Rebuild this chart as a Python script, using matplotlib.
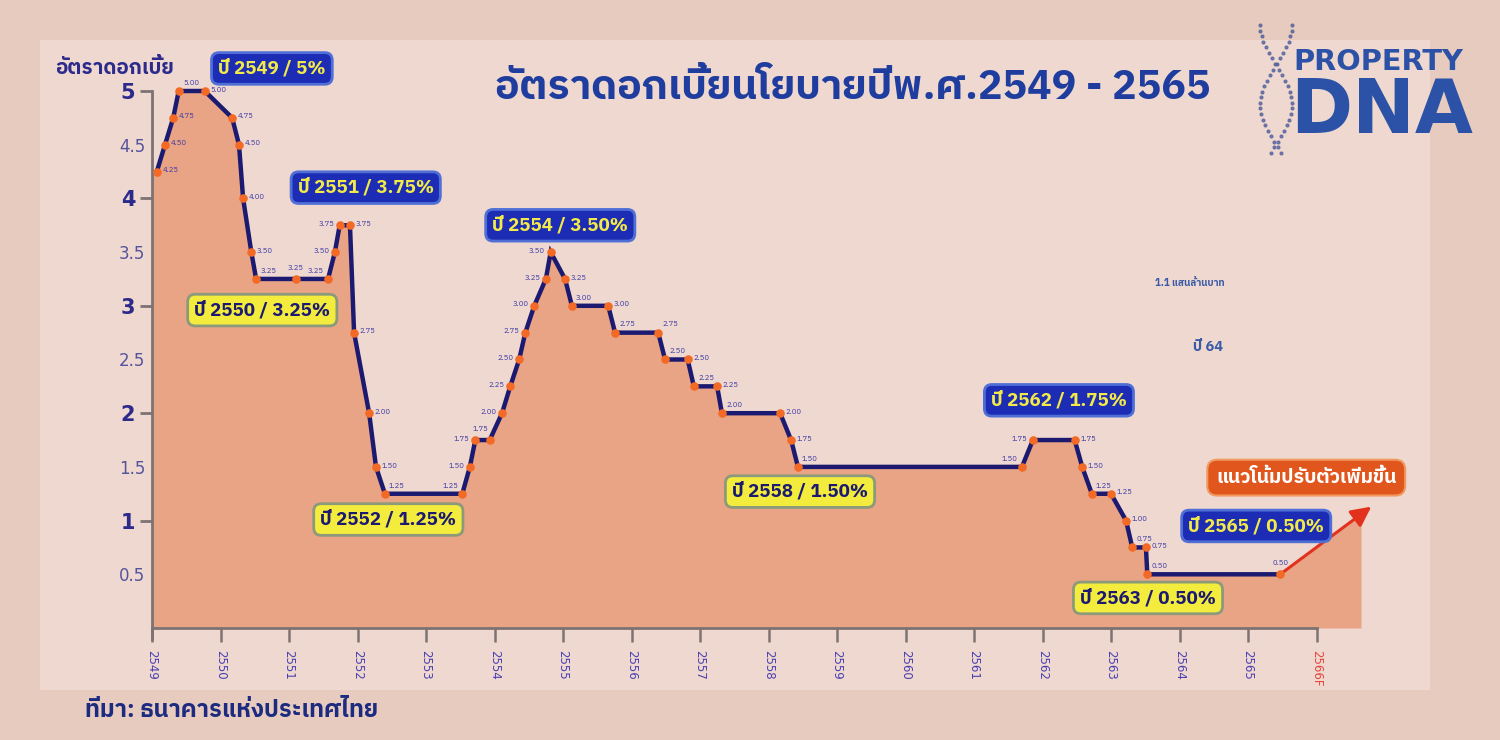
import numpy as np
import matplotlib
matplotlib.use("Agg")
import matplotlib.pyplot as plt
from matplotlib import font_manager as fm
from matplotlib.ft2font import FT2Font
from matplotlib.patches import Rectangle

# ---------------- data ----------------
years = [2549.07, 2549.19, 2549.31, 2549.39, 2549.77, 2550.17, 2550.27, 2550.33,
         2550.45, 2550.52, 2551.10, 2551.57, 2551.67, 2551.74, 2551.89, 2551.95,
         2552.17, 2552.27, 2552.40, 2553.53, 2553.64, 2553.72, 2553.93, 2554.11,
         2554.23, 2554.36, 2554.45, 2554.58, 2554.75, 2554.82, 2555.03, 2555.13,
         2555.66, 2555.76, 2556.39, 2556.49, 2556.82, 2556.91, 2557.25, 2557.32,
         2558.17, 2558.33, 2558.43, 2561.70, 2561.86, 2562.47, 2562.58, 2562.72,
         2563.00, 2563.22, 2563.31, 2563.51, 2563.53, 2565.47]
rates = [4.25, 4.50, 4.75, 5.00, 5.00, 4.75, 4.50, 4.00,
         3.50, 3.25, 3.25, 3.25, 3.50, 3.75, 3.75, 2.75,
         2.00, 1.50, 1.25, 1.25, 1.50, 1.75, 1.75, 2.00,
         2.25, 2.50, 2.75, 3.00, 3.25, 3.50, 3.25, 3.00,
         3.00, 2.75, 2.75, 2.50, 2.50, 2.25, 2.25, 2.00,
         2.00, 1.75, 1.50, 1.50, 1.75, 1.75, 1.50, 1.25,
         1.25, 1.00, 0.75, 0.75, 0.50, 0.50]
label_side = ("r r r u r r r r r u t v l l r r r r u v l l w l l l l l l l "
              "r u r u u u r u r u r r u v l r r u r r u r u t").split()

trend_years = [2565.47, 2566.80]
trend_rates = [0.50, 1.13]

xtick_years = list(range(2549, 2567))
xtick_labels = [str(y) for y in range(2549, 2566)] + ["2566F"]
ytick_major = [1, 2, 3, 4, 5]
ytick_minor = [0.5, 1.5, 2.5, 3.5, 4.5]

callouts = [  # (text, year, value, kind)
    ("ปี 2549 / 5%", 2550.75, 5.21, "blue"),
    ("ปี 2550 / 3.25%", 2550.61, 2.96, "yellow"),
    ("ปี 2551 / 3.75%", 2552.12, 4.10, "blue"),
    ("ปี 2552 / 1.25%", 2552.45, 1.01, "yellow"),
    ("ปี 2554 / 3.50%", 2554.96, 3.75, "blue"),
    ("ปี 2558 / 1.50%", 2558.46, 1.27, "yellow"),
    ("ปี 2562 / 1.75%", 2562.24, 2.12, "blue"),
    ("ปี 2563 / 0.50%", 2563.54, 0.28, "yellow"),
    ("ปี 2565 / 0.50%", 2565.12, 0.95, "blue"),
]

# ---------------- fonts ----------------
def find_thai():
    pref = []
    other = []
    for f in fm.fontManager.ttflist:
        try:
            cm = FT2Font(f.fname).get_charmap()
        except Exception:
            continue
        if 0x0E2D in cm and 0x0E35 in cm:
            if "Thai" in f.name:
                pref.append(f.name)
            else:
                other.append(f.name)
    for lst in (pref, other):
        if lst:
            return lst[0]
    return None

thai = find_thai()
FAM = ([thai] if thai else []) + ["DejaVu Sans"]
plt.rcParams["font.family"] = FAM

NAVY = "#1c1a70"
LBL = "#3a36a6"
BG_OUT = "#e7cbbf"
BG_IN = "#eed8cf"
FILL = "#e9a485"

fig = plt.figure(figsize=(15, 7.4), dpi=100, facecolor=BG_OUT)
fig.patches.append(Rectangle((40 / 1500, 1 - 690 / 740), 1390 / 1500, 650 / 740,
                             transform=fig.transFigure, facecolor=BG_IN,
                             edgecolor="none", zorder=-5))

# axes: 2549 -> px 152, 68.5 px/yr ; 0 -> py 628, 107.4 px/unit
x0, y0 = 152, 628
xr = 18 * 68.5
ytop = 60
ax = fig.add_axes([x0 / 1500, 1 - y0 / 740, xr / 1500, (y0 - ytop) / 740])
ax.set_facecolor("none")
ax.set_zorder(2)
ax.set_xlim(2549, 2567)
ax.set_ylim(0, (y0 - ytop) / 107.4)

# fill under curve (with trend part)
fx = [2549.0] + years + [2566.65]
fy = [rates[0] - 0.02] + rates + [trend_rates[0] + (trend_rates[1] - trend_rates[0]) *
                                  (2566.65 - trend_years[0]) / (trend_years[1] - trend_years[0])]
ax.fill_between(fx, 0, fy, color=FILL, zorder=1, linewidth=0)

ax.plot(years, rates, color=NAVY, lw=3.2, zorder=3, solid_joinstyle="miter")
ax.scatter(years, rates, s=38, color="#f26a26", zorder=4, linewidths=0)

ax.annotate("", xy=(trend_years[1], trend_rates[1]), xytext=(trend_years[0], trend_rates[0]),
            arrowprops=dict(arrowstyle="-|>,head_length=1.2,head_width=0.6",
                            color="#e2321e", lw=2.2, shrinkA=0, shrinkB=0), zorder=3)

offs = {"r": (4, 1, "left", "center"), "l": (-4, 1, "right", "center"),
        "t": (0, 5, "center", "bottom"), "u": (3, 3, "left", "bottom"),
        "v": (-3, 3, "right", "bottom"), "w": (-1, 5, "right", "bottom")}
for x, v, s in zip(years, rates, label_side):
    dx, dy, ha, va = offs[s]
    ax.annotate(f"{v:.2f}", (x, v), xytext=(dx, dy), textcoords="offset points",
                ha=ha, va=va, fontsize=5.5, color=LBL, zorder=5)

for txt, x, v, kind in callouts:
    if kind == "blue":
        fc, ec, tc = "#1d2cb4", "#4f6fd6", "#f2ea48"
    else:
        fc, ec, tc = "#f3ec3c", "#8b9a7a", NAVY
    ax.text(x, v, txt, ha="center", va="center", fontsize=13.5, fontweight="bold",
            color=tc, zorder=6,
            bbox=dict(boxstyle="round,pad=0.35,rounding_size=0.4", fc=fc, ec=ec, lw=2))

ax.text(2565.85, 1.40, "แนวโน้มปรับตัวเพิ่มขึ้น", ha="center", va="center", fontsize=14,
        fontweight="bold", color="white", zorder=6,
        bbox=dict(boxstyle="round,pad=0.45,rounding_size=0.5", fc="#e0561c", ec="#f09a60", lw=1.5))
ax.text(2564.15, 3.21, "1.1 แสนล้านบาท", ha="center", va="center", fontsize=7,
        fontweight="bold", color="#3a5aa8", zorder=2)
ax.text(2564.42, 2.62, "ปี 64", ha="center", va="center", fontsize=10.5,
        fontweight="bold", color="#3a5aa8", zorder=2)

# axes styling
for s in ("top", "right"):
    ax.spines[s].set_visible(False)
for s in ("left", "bottom"):
    ax.spines[s].set_color("#7d7372")
    ax.spines[s].set_linewidth(2)
ax.spines["left"].set_bounds(-0.1, 5.0)
ax.spines["bottom"].set_bounds(2549, 2566)

ax.set_yticks(ytick_major)
ax.set_yticklabels([str(v) for v in ytick_major], fontsize=15, fontweight="bold",
                   color="#2c2a8a", family="DejaVu Sans")
ax.set_yticks(ytick_minor, minor=True)
ax.set_yticklabels([str(v) for v in ytick_minor], minor=True, fontsize=12,
                   color="#55539c", family="DejaVu Sans")
ax.tick_params(axis="y", which="major", length=9, width=2, color="#7d7372", pad=3)
ax.tick_params(axis="y", which="minor", length=0, pad=5)

ax.set_xticks(xtick_years)
ax.set_xticklabels(xtick_labels, rotation=-90, fontsize=8.5, color="#4a3fb2",
                   family="DejaVu Sans")
ax.get_xticklabels()[-1].set_color("#e8453a")
ax.tick_params(axis="x", length=10, width=1.8, color="#7d7372", pad=6)

# texts
fig.text(0.5687, 0.881, "อัตราดอกเบี้ยนโยบายปีพ.ศ.2549 - 2565", ha="center", va="center",
         fontsize=29.5, fontweight="bold", color="#1f3d9e")
fig.text(0.0367, 0.908, "อัตราดอกเบี้ย", ha="left", va="center", fontsize=14.8,
         fontweight="bold", color="#2c2a8a")
fig.text(0.0567, 0.0405, "ที่มา: ธนาคารแห่งประเทศไทย", ha="left", va="center", fontsize=17,
         fontweight="bold", style="italic", color="#1c2a80")

# logo
fig.text(1293 / 1500, 1 - 70 / 740, "PROPERTY", ha="left", va="baseline",
         fontsize=20.8, fontweight="bold", color="#2b52a6", family="DejaVu Sans")
fig.text(1290 / 1500, 1 - 133 / 740, "DNA", ha="left", va="baseline",
         fontsize=54, fontweight="heavy", color="#2b52a6", family="DejaVu Sans")
t = np.linspace(0, 1, 24)
for ph in (0.0, 1.0):
    hx = 1276 + 16 * np.cos(np.pi * (t * 1.6 + ph))
    hy = 25 + 128 * t
    fig.add_artist(plt.Line2D(hx / 1500, 1 - hy / 740, transform=fig.transFigure,
                              ls="none", marker="o", ms=2.0, color="#4a5a9a", alpha=0.7))

fig.savefig("out.png", dpi=100, facecolor=fig.get_facecolor())
